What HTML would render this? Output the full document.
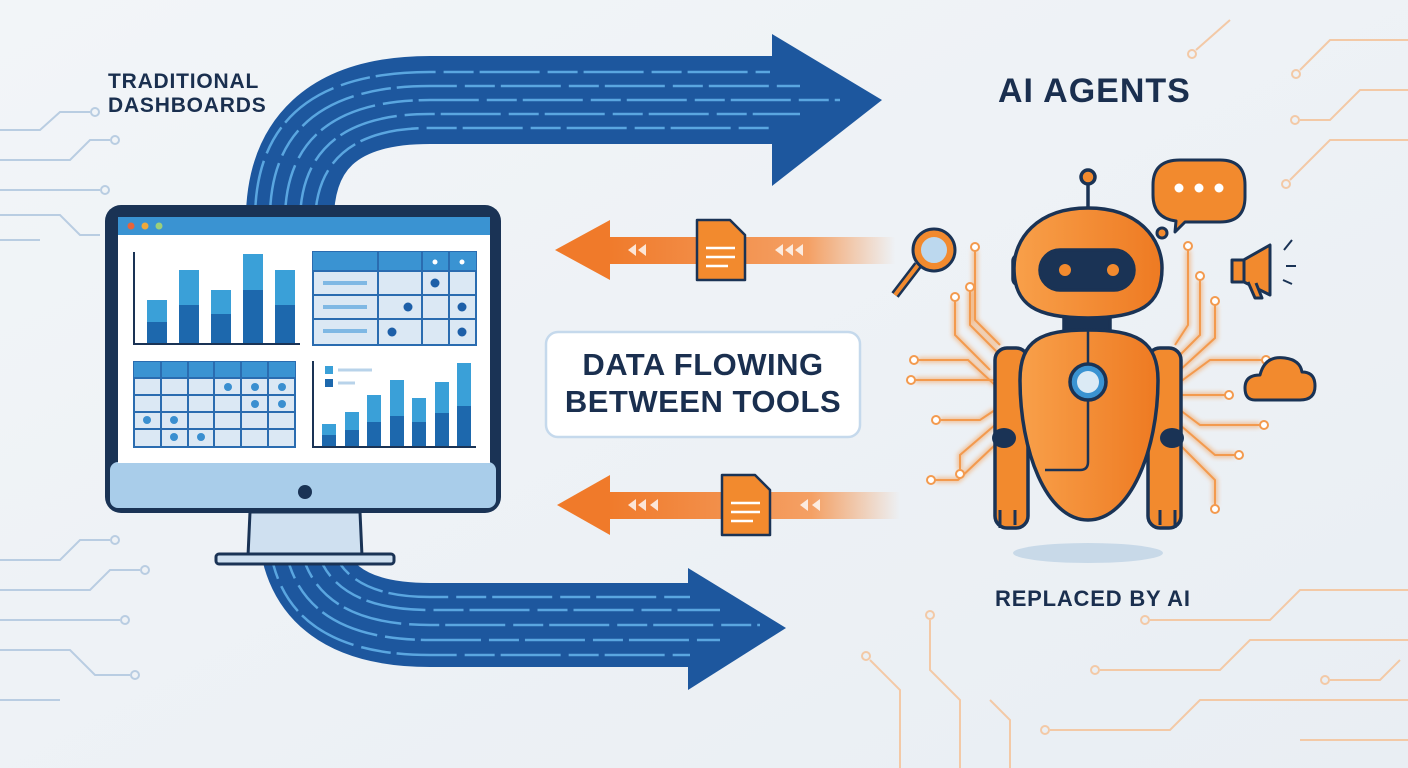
<!DOCTYPE html>
<html><head><meta charset="utf-8"><style>
html,body{margin:0;padding:0;background:#eef2f6;}
svg{display:block}
text{font-family:"Liberation Sans",sans-serif;font-weight:bold;}
</style></head><body>
<svg width="1408" height="768" viewBox="0 0 1408 768" xmlns="http://www.w3.org/2000/svg">
<defs>
<linearGradient id="bg" x1="0" y1="0" x2="1" y2="1"><stop offset="0" stop-color="#f2f5f8"/><stop offset="1" stop-color="#e9eef3"/></linearGradient>
<linearGradient id="og1" x1="0" x2="1"><stop offset="0" stop-color="#f07a2a"/><stop offset="0.7" stop-color="#f4a064"/><stop offset="1" stop-color="#f4a064" stop-opacity="0"/></linearGradient>
<linearGradient id="rb" x1="0" x2="1"><stop offset="0" stop-color="#f8a04a"/><stop offset="1" stop-color="#ee7a22"/></linearGradient>
<filter id="glow"><feGaussianBlur stdDeviation="2.5"/></filter>
</defs>
<rect width="1408" height="768" fill="url(#bg)"/>

<g stroke="#b9cde2" stroke-width="2" fill="none">
<path d="M0 130 H40 L60 112 H90"/><circle cx="95" cy="112" r="4"/>
<path d="M0 160 H70 L90 140 H110"/><circle cx="115" cy="140" r="4"/>
<path d="M0 190 H100"/><circle cx="105" cy="190" r="4"/>
<path d="M0 215 H60 L80 235 H100"/>
<path d="M0 240 H40"/>
<path d="M0 560 H60 L80 540 H110"/><circle cx="115" cy="540" r="4"/>
<path d="M0 590 H90 L110 570 H140"/><circle cx="145" cy="570" r="4"/>
<path d="M0 620 H120"/><circle cx="125" cy="620" r="4"/>
<path d="M0 650 H70 L95 675 H130"/><circle cx="135" cy="675" r="4"/>
<path d="M0 700 H60"/>
</g>
<g stroke="#f3c9a6" stroke-width="2" fill="none">
<path d="M1408 40 H1330 L1300 70"/><circle cx="1296" cy="74" r="4"/>
<path d="M1408 90 H1360 L1330 120 H1300"/><circle cx="1295" cy="120" r="4"/>
<path d="M1408 140 H1330 L1290 180"/><circle cx="1286" cy="184" r="4"/>
<path d="M1196 50 L1230 20"/><circle cx="1192" cy="54" r="4"/>
<path d="M1408 590 H1300 L1270 620 H1150"/><circle cx="1145" cy="620" r="4"/>
<path d="M1408 640 H1250 L1220 670 H1100"/><circle cx="1095" cy="670" r="4"/>
<path d="M1408 700 H1200 L1170 730 H1050"/><circle cx="1045" cy="730" r="4"/>
<path d="M1408 740 H1300"/>
<path d="M960 768 V700 L930 670 V620"/><circle cx="930" cy="615" r="4"/>
<path d="M900 768 V690 L870 660"/><circle cx="866" cy="656" r="4"/>
<path d="M1010 768 V720 L990 700"/>
<path d="M1330 680 H1380 L1400 660"/><circle cx="1325" cy="680" r="4"/>
</g>

<path d="M290 230 Q285 100 430 100 L780 100" stroke="#1d579e" stroke-width="88" fill="none"/>
<polygon points="772,34 882,100 772,186" fill="#1d579e"/>
<g stroke="#5aa6e0" stroke-width="2.5" fill="none" stroke-dasharray="60 8 30 6">
<path d="M255 220 Q255 72 430 72 L770 72"/>
<path d="M270 222 Q268 86 430 86 L800 86"/>
<path d="M285 224 Q283 100 430 100 L840 100"/>
<path d="M300 226 Q298 114 430 114 L800 114"/>
<path d="M315 228 Q313 128 430 128 L770 128"/>
</g>
<path d="M300 520 Q300 625 430 625 L700 625" stroke="#1d579e" stroke-width="84" fill="none"/>
<polygon points="688,568 786,628 688,690" fill="#1d579e"/>
<g stroke="#5aa6e0" stroke-width="2.5" fill="none" stroke-dasharray="60 8 30 6">
<path d="M268 520 Q268 655 430 655 L690 655"/>
<path d="M283 520 Q283 640 430 640 L720 640"/>
<path d="M298 520 Q298 625 430 625 L760 625"/>
<path d="M313 520 Q313 610 430 610 L720 610"/>
<path d="M328 520 Q328 597 430 597 L690 597"/>
</g>

<rect x="605" y="237" width="290" height="27" fill="url(#og1)"/>
<polygon points="555,250 610,220 610,280" fill="#f07a2a"/>
<g fill="#fff" opacity="0.8"><polygon points="628,250 636,244 636,256"/><polygon points="638,250 646,244 646,256"/><polygon points="775,250 783,244 783,256"/><polygon points="785,250 793,244 793,256"/><polygon points="795,250 803,244 803,256"/></g>
<rect x="605" y="492" width="295" height="27" fill="url(#og1)"/>
<polygon points="557,505 610,475 610,535" fill="#f07a2a"/>
<g fill="#fff" opacity="0.8"><polygon points="628,505 636,499 636,511"/><polygon points="638,505 646,499 646,511"/><polygon points="650,505 658,499 658,511"/><polygon points="800,505 808,499 808,511"/><polygon points="812,505 820,499 820,511"/></g>
<g stroke="#1a3355" stroke-width="2.5" stroke-linejoin="round">
<path d="M697 220 H730 L745 235 V280 H697 Z" fill="#f28a2e"/>
<path d="M722 475 H755 L770 490 V535 H722 Z" fill="#f28a2e"/>
</g>
<g stroke="#fff" stroke-width="2.5"><path d="M706 248 H735 M706 257 H735 M706 266 H728"/><path d="M731 503 H760 M731 512 H760 M731 521 H753"/></g>

<rect x="546" y="332" width="314" height="105" rx="12" fill="#fff" stroke="#c5d9ec" stroke-width="2.5"/>
<text x="703" y="375" font-size="31" fill="#1a2f4f" text-anchor="middle" letter-spacing="0.5">DATA FLOWING</text>
<text x="703" y="412" font-size="31" fill="#1a2f4f" text-anchor="middle" letter-spacing="0.5">BETWEEN TOOLS</text>

<text x="108" y="88" font-size="21" fill="#1a2f4f" letter-spacing="0.8">TRADITIONAL</text>
<text x="108" y="112" font-size="21" fill="#1a2f4f" letter-spacing="0.8">DASHBOARDS</text>
<text x="998" y="102" font-size="34" fill="#1a2f4f" letter-spacing="1">AI AGENTS</text>
<text x="995" y="606" font-size="22" fill="#1a2f4f" letter-spacing="0.8">REPLACED BY AI</text>

<path d="M250 512 H360 L362 556 H248 Z" fill="#cfe0f0" stroke="#1a3355" stroke-width="3"/>
<rect x="216" y="554" width="178" height="10" rx="3" fill="#cfe0f0" stroke="#1a3355" stroke-width="3"/>
<rect x="105" y="205" width="396" height="308" rx="16" fill="#1a3355"/>
<rect x="110" y="462" width="386" height="46" rx="8" fill="#a9cdea"/>
<circle cx="305" cy="492" r="7" fill="#1a3355"/>
<rect x="118" y="217" width="372" height="246" fill="#fff"/>
<rect x="118" y="217" width="372" height="18" fill="#3a93d2"/>
<circle cx="131" cy="226" r="3.5" fill="#e8643a"/><circle cx="145" cy="226" r="3.5" fill="#f0a93a"/><circle cx="159" cy="226" r="3.5" fill="#9ccf7a"/>
<path d="M134 252 V344 H300" stroke="#1a3355" stroke-width="2" fill="none"/>
<g fill="#3aa0d8"><rect x="147" y="300" width="20" height="43"/><rect x="179" y="270" width="20" height="73"/><rect x="211" y="290" width="20" height="53"/><rect x="243" y="254" width="20" height="89"/><rect x="275" y="270" width="20" height="73"/></g>
<g fill="#1d68ad"><rect x="147" y="322" width="20" height="21"/><rect x="179" y="305" width="20" height="38"/><rect x="211" y="314" width="20" height="29"/><rect x="243" y="290" width="20" height="53"/><rect x="275" y="305" width="20" height="38"/></g>
<rect x="313" y="252" width="163" height="93" fill="#dbe8f4" stroke="#2a6cb0" stroke-width="2"/>
<rect x="313" y="252" width="163" height="19" fill="#3a93d2"/>
<g stroke="#2a6cb0" stroke-width="2"><path d="M313 271 H476 M313 295 H476 M313 319 H476 M378 252 V345 M422 252 V345 M449 252 V345"/></g>
<g stroke="#7fb8e4" stroke-width="4"><path d="M323 283 H367 M323 307 H367 M323 331 H367"/></g>
<g fill="#1d5fa8"><circle cx="435" cy="283" r="4.5"/><circle cx="408" cy="307" r="4.5"/><circle cx="462" cy="307" r="4.5"/><circle cx="392" cy="332" r="4.5"/><circle cx="462" cy="332" r="4.5"/></g>
<g fill="#fff"><circle cx="435" cy="262" r="2.5"/><circle cx="462" cy="262" r="2.5"/></g>
<rect x="134" y="362" width="161" height="85" fill="#dbe8f4" stroke="#2a6cb0" stroke-width="2"/>
<rect x="134" y="362" width="161" height="16" fill="#3a93d2"/>
<g stroke="#2a6cb0" stroke-width="2"><path d="M134 378 H295 M134 395 H295 M134 412 H295 M134 429 H295 M161 362 V447 M188 362 V447 M214 362 V447 M241 362 V447 M268 362 V447"/></g>
<g fill="#3a8fd0"><circle cx="228" cy="387" r="4"/><circle cx="255" cy="387" r="4"/><circle cx="282" cy="387" r="4"/><circle cx="255" cy="404" r="4"/><circle cx="282" cy="404" r="4"/><circle cx="147" cy="420" r="4"/><circle cx="174" cy="420" r="4"/><circle cx="174" cy="437" r="4"/><circle cx="201" cy="437" r="4"/></g>
<path d="M313 361 V447 H476" stroke="#1a3355" stroke-width="2" fill="none"/>
<rect x="325" y="366" width="8" height="8" fill="#3aa0d8"/><rect x="325" y="379" width="8" height="8" fill="#1d68ad"/>
<path d="M338 370 H372 M338 383 H355" stroke="#b8d3ea" stroke-width="3"/>
<g fill="#3aa0d8"><rect x="322" y="424" width="14" height="22"/><rect x="345" y="412" width="14" height="34"/><rect x="367" y="395" width="14" height="51"/><rect x="390" y="380" width="14" height="66"/><rect x="412" y="398" width="14" height="48"/><rect x="435" y="382" width="14" height="64"/><rect x="457" y="363" width="14" height="83"/></g>
<g fill="#1d68ad"><rect x="322" y="435" width="14" height="11"/><rect x="345" y="430" width="14" height="16"/><rect x="367" y="422" width="14" height="24"/><rect x="390" y="416" width="14" height="30"/><rect x="412" y="422" width="14" height="24"/><rect x="435" y="413" width="14" height="33"/><rect x="457" y="406" width="14" height="40"/></g>

<g stroke="#f39a4e" stroke-width="2" fill="none">
<g filter="url(#glow)" opacity="0.6" stroke-width="5">
<path d="M1000 345 L975 320 V250 M1005 360 L970 325 V290 M990 370 L955 335 V300 M995 385 L968 360 H918 M995 380 H915 M995 410 L980 420 H940 M995 425 L960 455 V470 M995 445 L958 480 H935 M1175 345 L1188 325 V250 M1175 360 L1200 335 V280 M1180 370 L1215 338 V305 M1180 382 L1210 360 H1262 M1180 395 H1225 M1180 410 L1200 425 H1260 M1180 425 L1215 455 H1235 M1180 445 L1215 480 V505"/>
</g>
<path d="M1000 345 L975 320 V250 M1005 360 L970 325 V290 M990 370 L955 335 V300 M995 385 L968 360 H918 M995 380 H915 M995 410 L980 420 H940 M995 425 L960 455 V470 M995 445 L958 480 H935 M1175 345 L1188 325 V250 M1175 360 L1200 335 V280 M1180 370 L1215 338 V305 M1180 382 L1210 360 H1262 M1180 395 H1225 M1180 410 L1200 425 H1260 M1180 425 L1215 455 H1235 M1180 445 L1215 480 V505"/>
<g fill="#fff"><circle cx="975" cy="247" r="4"/><circle cx="970" cy="287" r="4"/><circle cx="955" cy="297" r="4"/><circle cx="914" cy="360" r="4"/><circle cx="911" cy="380" r="4"/><circle cx="936" cy="420" r="4"/><circle cx="960" cy="474" r="4"/><circle cx="931" cy="480" r="4"/><circle cx="1188" cy="246" r="4"/><circle cx="1200" cy="276" r="4"/><circle cx="1215" cy="301" r="4"/><circle cx="1266" cy="360" r="4"/><circle cx="1229" cy="395" r="4"/><circle cx="1264" cy="425" r="4"/><circle cx="1239" cy="455" r="4"/><circle cx="1215" cy="509" r="4"/></g>
</g>

<ellipse cx="1088" cy="553" rx="75" ry="10" fill="#c8d9e8"/>
<g stroke="#1a3355" stroke-width="3.5" stroke-linejoin="round">
<line x1="1088" y1="183" x2="1088" y2="207"/>
<circle cx="1088" cy="177" r="7" fill="#f28a2e"/>
<rect x="1013" y="255" width="14" height="30" rx="6" fill="#f28a2e"/>
<rect x="1147" y="255" width="14" height="30" rx="6" fill="#f28a2e"/>
<rect x="1064" y="312" width="46" height="22" fill="#1a3355"/>
<path d="M1088 208 C1140 208 1162 240 1162 268 C1162 305 1140 318 1088 318 C1036 318 1014 305 1014 268 C1014 240 1036 208 1088 208 Z" fill="url(#rb)"/>
<rect x="1040" y="250" width="94" height="40" rx="20" fill="#1a3355"/>
<rect x="995" y="348" width="33" height="180" rx="12" fill="#f28a2e"/>
<rect x="1148" y="348" width="33" height="180" rx="12" fill="#f28a2e"/>
<path d="M1088 330 C1135 330 1158 340 1158 380 C1158 450 1130 520 1088 520 C1046 520 1020 450 1020 380 C1020 340 1041 330 1088 330 Z" fill="url(#rb)"/>
<path d="M1088 330 V462 Q1088 470 1080 470 H1045" fill="none" stroke-width="2.5"/>
<circle cx="1088" cy="382" r="18" fill="#3a93d2"/>
</g>
<circle cx="1088" cy="382" r="11" fill="#dbeaf5"/>
<circle cx="1065" cy="270" r="6" fill="#f28a2e"/><circle cx="1113" cy="270" r="6" fill="#f28a2e"/>
<ellipse cx="1004" cy="438" rx="12" ry="10" fill="#1a3355"/><ellipse cx="1172" cy="438" rx="12" ry="10" fill="#1a3355"/>
<path d="M1000 510 V528 M1015 510 V525 M1160 510 V525 M1175 510 V528" stroke="#1a3355" stroke-width="3"/>

<g stroke="#1a3355" stroke-width="3" stroke-linejoin="round">
<path d="M1180 160 H1220 Q1245 160 1245 185 V197 Q1245 222 1220 222 H1185 L1175 232 L1176 221 Q1153 218 1153 195 V185 Q1153 160 1180 160 Z" fill="#f28a2e"/>
<circle cx="1162" cy="233" r="5" fill="#f28a2e"/>
<line x1="918" y1="265" x2="895" y2="295" stroke-width="9"/>
<line x1="918" y1="265" x2="895" y2="295" stroke="#f28a2e" stroke-width="4"/>
<circle cx="934" cy="250" r="21" fill="#f28a2e"/>
<path d="M1240 262 L1270 245 V295 L1240 280 Z" fill="#f28a2e"/>
<rect x="1232" y="260" width="12" height="22" fill="#f28a2e"/>
<path d="M1248 282 L1255 298 H1262 L1256 283" fill="#f28a2e"/>
<path d="M1255 400 Q1245 400 1245 388 Q1245 375 1260 375 Q1265 355 1285 358 Q1300 360 1302 372 Q1315 372 1315 386 Q1315 400 1300 400 Z" fill="#f28a2e"/>
</g>
<circle cx="934" cy="250" r="14" fill="#bcd8ee" stroke="#f28a2e" stroke-width="2"/>
<g fill="#fff"><circle cx="1179" cy="188" r="4.5"/><circle cx="1199" cy="188" r="4.5"/><circle cx="1219" cy="188" r="4.5"/></g>
<path d="M1284 250 L1292 240 M1286 266 H1296 M1283 280 L1292 284" stroke="#1a3355" stroke-width="2"/>
</svg>
</body></html>
